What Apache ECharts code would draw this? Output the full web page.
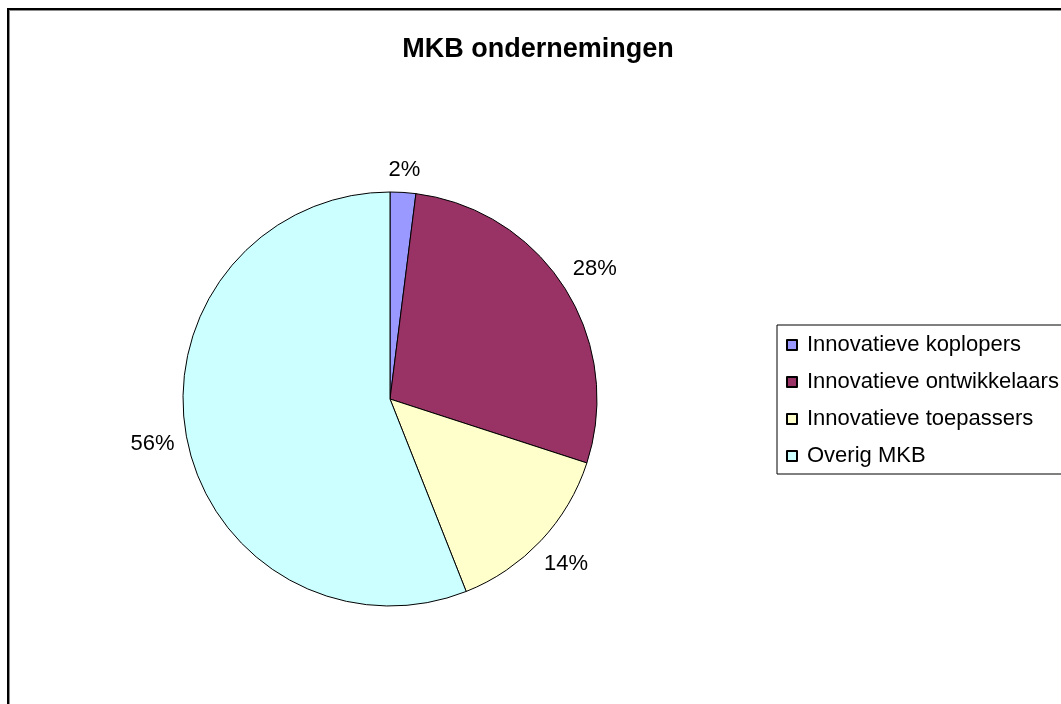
<!DOCTYPE html>
<html><head><meta charset="utf-8">
<script src="https://cdn.jsdelivr.net/npm/echarts@6/dist/echarts.min.js"></script>
<style>html,body{margin:0;padding:0;background:#fff;}#c{width:1061px;height:704px;}</style>
</head><body><div id="c"></div>
<script>
const categories = ['Innovatieve koplopers', 'Innovatieve ontwikkelaars', 'Innovatieve toepassers', 'Overig MKB'];
const values = [2, 28, 14, 56];
const colors = ['#9999FF', '#993366', '#FFFFCC', '#CCFFFF'];
const titleText = 'MKB ondernemingen';

const chart = echarts.init(document.getElementById('c'), null, {renderer: 'canvas'});
const font = '"Liberation Sans", Arial, sans-serif';
const LINE_LEN = 10, GAP = 11;
chart.setOption({
  animation: false,
  backgroundColor: '#fff',
  graphic: [{
    type: 'rect', z: -1,
    shape: {x: 8, y: 9, width: 1200, height: 800},
    style: {fill: '#fff', stroke: '#000', lineWidth: 2, shadowColor: 'rgba(0,0,0,0.45)', shadowOffsetX: 1, shadowOffsetY: 1, shadowBlur: 0}
  }],
  title: {
    text: titleText, left: 533, top: 31, textAlign: 'center',
    textStyle: {fontFamily: font, fontSize: 27, fontWeight: 'bold', color: '#000'}
  },
  legend: {
    orient: 'vertical', left: 777, top: 325,
    padding: [9, 60, 7, 9],
    borderColor: '#000', borderWidth: 1,
    itemWidth: 10, itemHeight: 10, itemGap: 15,
    icon: 'rect',
    textStyle: {fontFamily: font, fontSize: 22, color: '#000', padding: [0, 0, 0, 5]},
    data: categories
  },
  series: [{
    type: 'pie',
    center: [390, 399], radius: 207,
    startAngle: 90, clockwise: true,
    data: categories.map((n, i) => ({name: n, value: values[i], itemStyle: {color: colors[i]}})),
    itemStyle: {borderColor: '#000', borderWidth: 1},
    label: {
      show: true, position: 'outside',
      formatter: p => Math.round(p.percent) + '%',
      fontFamily: font, fontSize: 22, color: '#000'
    },
    labelLine: {show: false, length: LINE_LEN, length2: 0},
    labelLayout: function (params) {
      const pts = params.labelLinePoints;
      if (!pts) return {};
      const p0 = pts[0], p1 = pts[1];
      const ux = (p1[0] - p0[0]) / LINE_LEN, uy = (p1[1] - p0[1]) / LINE_LEN;
      const hw = params.labelRect.width / 2, hh = params.labelRect.height / 2;
      const d = GAP + hw * Math.abs(ux) + hh * Math.abs(uy);
      return {x: p0[0] + ux * d, y: p0[1] + uy * d, align: 'center', verticalAlign: 'middle'};
    },
    emphasis: {disabled: true}
  }]
});
</script></body></html>
